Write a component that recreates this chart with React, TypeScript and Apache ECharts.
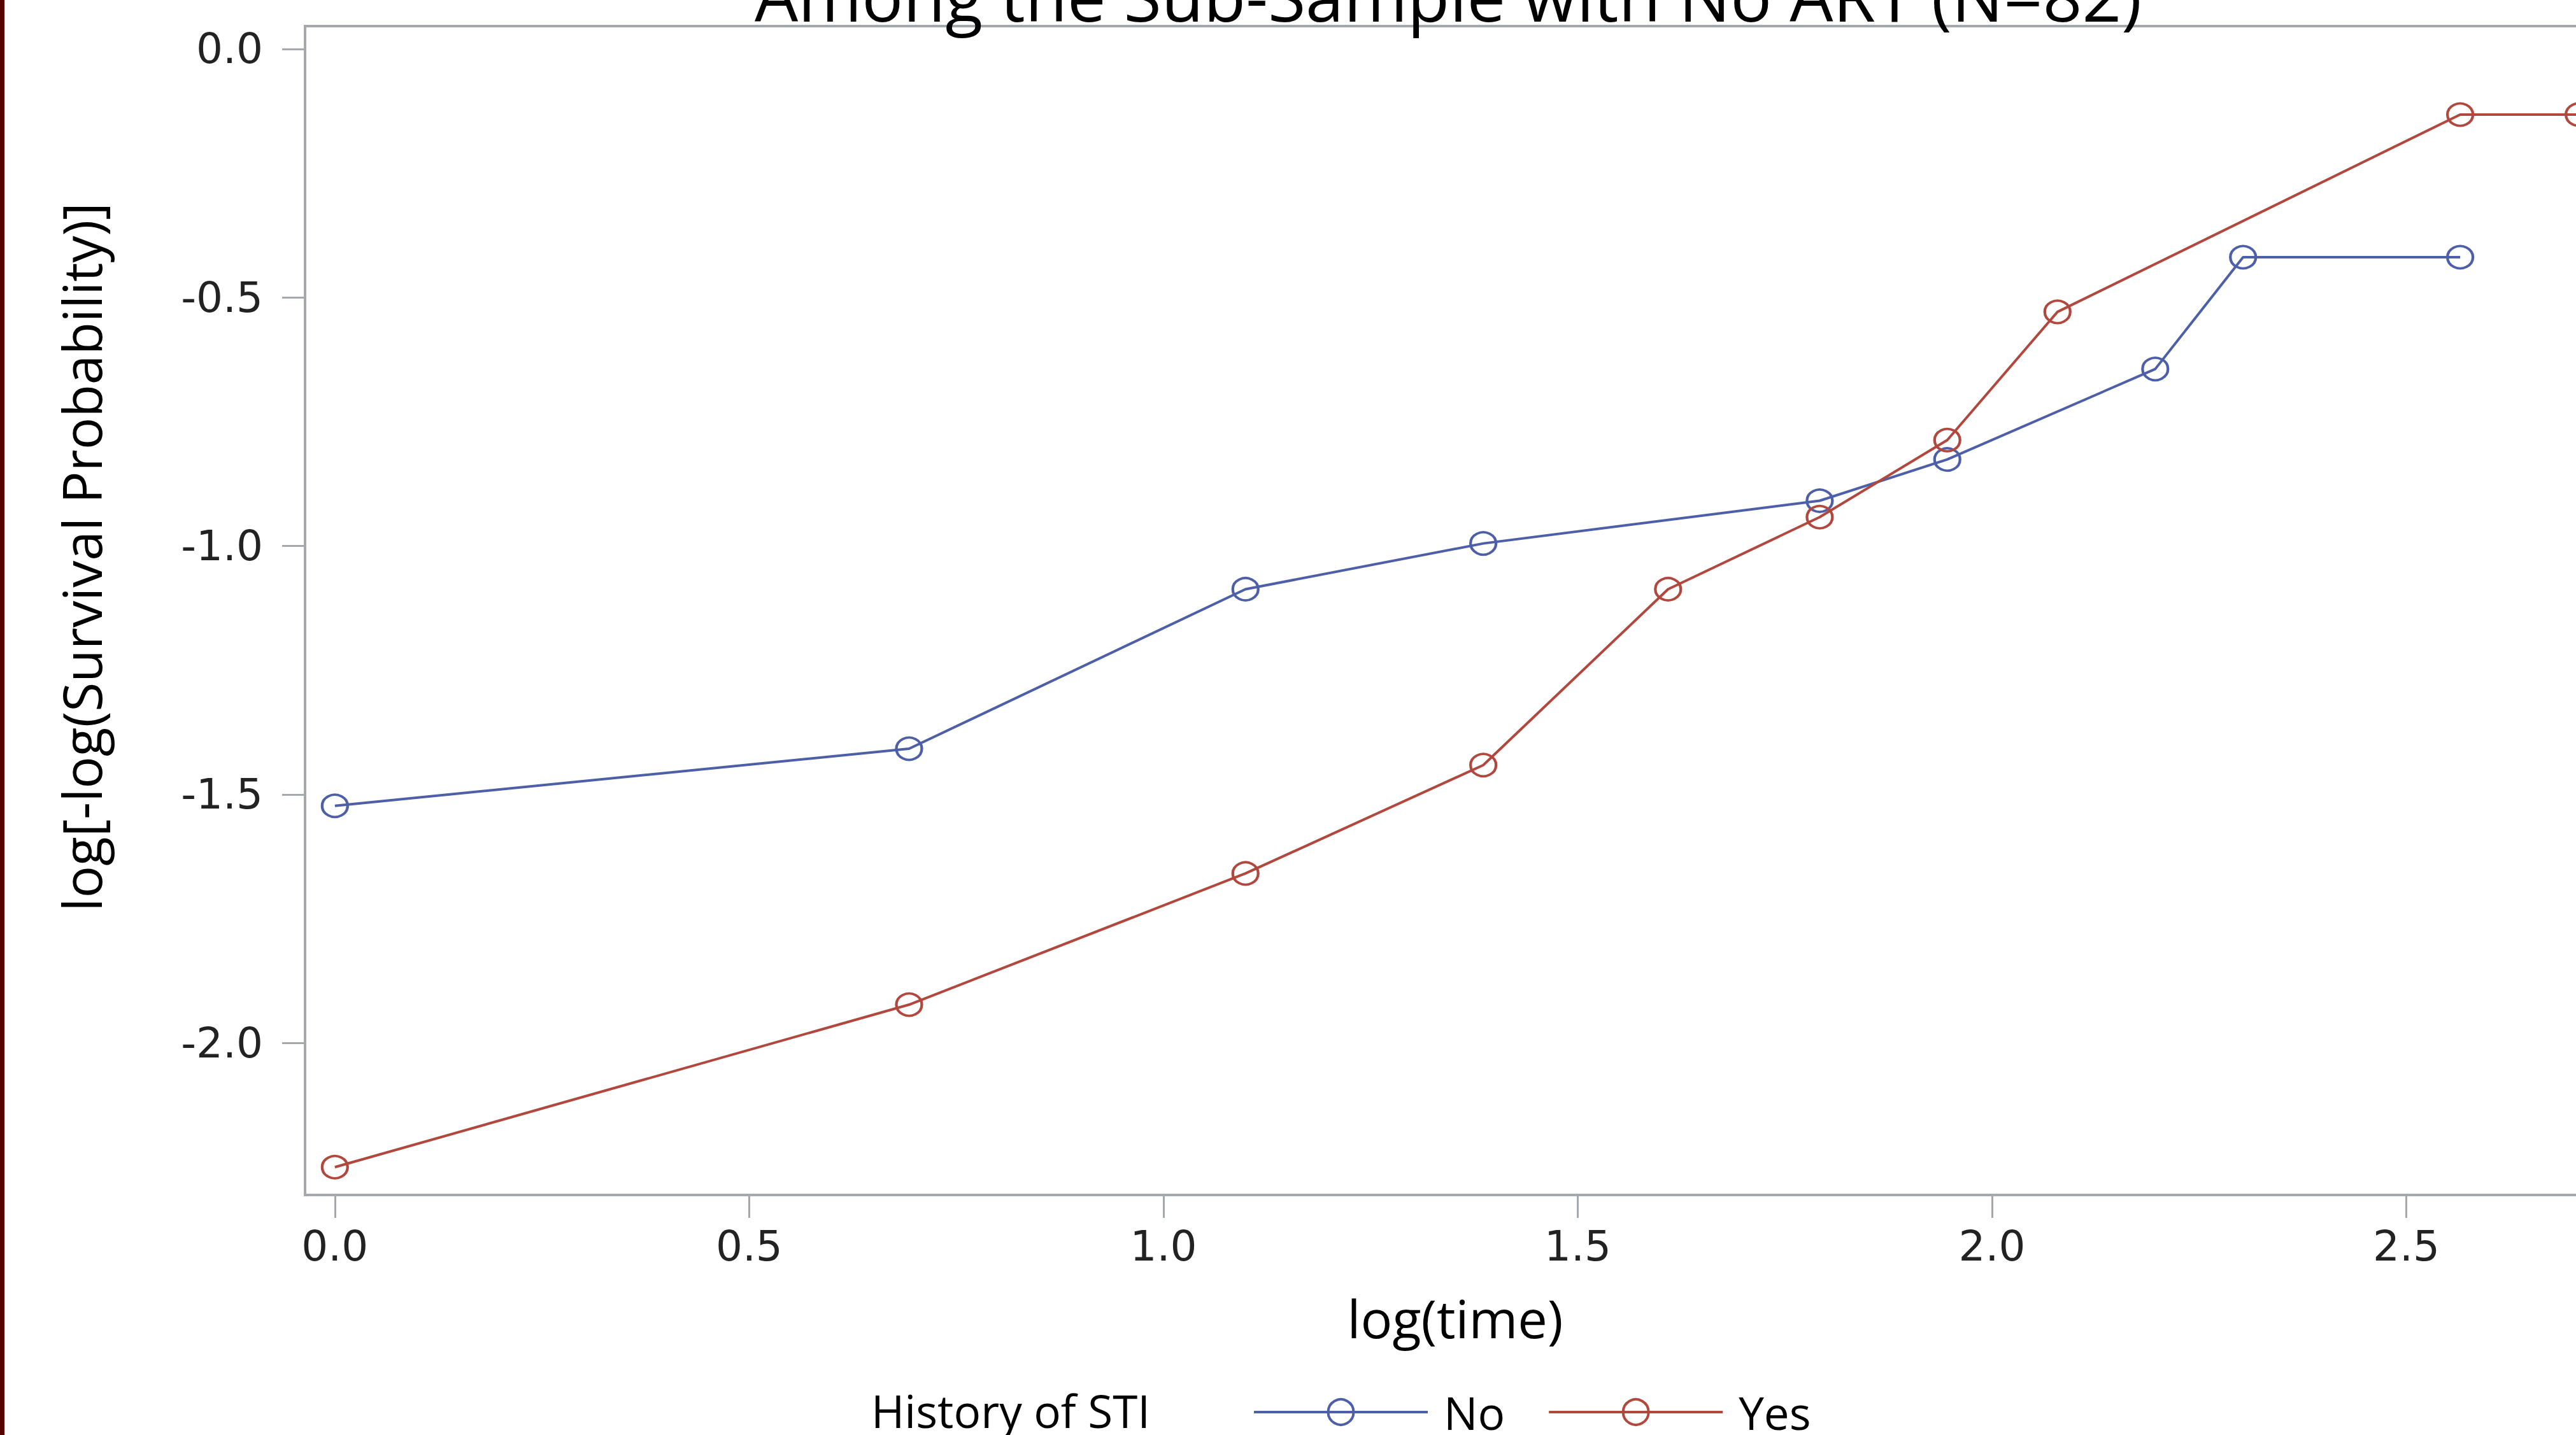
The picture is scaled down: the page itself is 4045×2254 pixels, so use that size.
import React, { useEffect, useRef } from "react";
import * as echarts from "echarts";

// ---- data ----
const TITLE = "Among the Sub-Sample with No ART (N=82)";
const X_NAME = "log(time)";
const Y_NAME = "log[-log(Survival Probability)]";
const LEGEND_TITLE = "History of STI";
const SERIES_NAMES = ["No", "Yes"];

const xNo = [0, 0.693, 1.099, 1.386, 1.792, 1.946, 2.197, 2.303, 2.565];
const yNo = [-1.523, -1.408, -1.087, -0.995, -0.909, -0.826, -0.644, -0.419, -0.419];

const xYes = [0, 0.693, 1.099, 1.386, 1.609, 1.792, 1.946, 2.079, 2.565, 2.708];
const yYes = [-2.25, -1.923, -1.659, -1.441, -1.087, -0.942, -0.787, -0.529, -0.132, -0.132];

const xTicks = [0, 0.5, 1, 1.5, 2, 2.5];
const yTicks = [-2, -1.5, -1, -0.5, 0];

// ---- styles ----
const BLUE = "#4d5fa8";
const RED = "#b2473d";
const FRAME = "#a4a9ad";
const W = 4045;
const H = 2254;

export default function App() {
  const ref = useRef<HTMLDivElement>(null);
  useEffect(() => {
    if (!ref.current) return;
    const chart = echarts.init(ref.current, null, { renderer: "svg" });
    const mkSeries = (name: string, xs: number[], ys: number[], color: string) => ({
      type: "line",
      name,
      data: xs.map((x, i) => [x, ys[i]]),
      symbol: "circle",
      symbolSize: [40, 35],
      color,
      lineStyle: { color, width: 4 },
      itemStyle: { color: "rgba(255,255,255,0)", borderColor: color, borderWidth: 4 },
      emphasis: { disabled: true },
    });
    chart.setOption({
      animation: false,
      backgroundColor: "#ffffff",
      grid: {
        left: 479,
        top: 41,
        right: -51,
        bottom: H - 1877,
        show: true,
        borderColor: FRAME,
        borderWidth: 4,
        backgroundColor: "rgba(0,0,0,0)",
        containLabel: false,
        outerBoundsMode: "none",
      },
      xAxis: {
        type: "value",
        min: -0.036,
        max: 2.744,
        axisLine: { show: false, onZero: false },
        splitLine: { show: false },
        axisTick: {
          show: true,
          customValues: xTicks,
          length: 36,
          inside: false,
          lineStyle: { color: FRAME, width: 3 },
        },
        axisLabel: {
          customValues: xTicks,
          formatter: (v: number) => v.toFixed(1),
          margin: 47,
          fontFamily: "DejaVu Sans",
          fontSize: 66,
          color: "#222",
        },
      },
      yAxis: {
        type: "value",
        min: -2.306,
        max: 0.046,
        axisLine: { show: false, onZero: false },
        splitLine: { show: false },
        axisTick: {
          show: true,
          customValues: yTicks,
          length: 36,
          inside: false,
          lineStyle: { color: FRAME, width: 3 },
        },
        axisLabel: {
          customValues: yTicks,
          formatter: (v: number) => v.toFixed(1),
          margin: 66,
          fontFamily: "DejaVu Sans",
          fontSize: 66,
          color: "#222",
        },
      },
      legend: {
        data: SERIES_NAMES,
        left: 1967,
        top: 2178,
        orient: "horizontal",
        itemWidth: 273,
        itemHeight: 50,
        itemGap: 67,
        padding: 0,
        selectedMode: false,
        itemStyle: { borderWidth: 4 },
        lineStyle: { width: 4 },
        textStyle: {
          fontFamily: "Open Sans",
          fontSize: 71,
          color: "#000",
          lineHeight: 80,
          padding: [0, 0, 0, 20],
        },
      },
      graphic: [
        {
          type: "rect",
          shape: { x: 0, y: 0, width: 7, height: H },
          style: { fill: "#560000" },
          z: 10,
        },
        {
          type: "text",
          x: 2274,
          y: -8,
          style: {
            text: TITLE,
            fontFamily: "Open Sans",
            fontSize: 108,
            fill: "#000",
            align: "center",
            verticalAlign: "middle",
          },
        },
        {
          type: "text",
          x: 2285,
          y: 2069,
          style: {
            text: X_NAME,
            fontFamily: "Open Sans",
            fontSize: 83,
            fill: "#000",
            align: "center",
            verticalAlign: "middle",
          },
        },
        {
          type: "text",
          x: 127,
          y: 875,
          rotation: Math.PI / 2,
          style: {
            text: Y_NAME,
            fontFamily: "Open Sans",
            fontSize: 84,
            fill: "#000",
            align: "center",
            verticalAlign: "middle",
          },
        },
        {
          type: "text",
          x: 1368,
          y: 2215,
          style: {
            text: LEGEND_TITLE,
            fontFamily: "Open Sans",
            fontSize: 71,
            fill: "#000",
            align: "left",
            verticalAlign: "middle",
          },
        },
      ],
      series: [
        mkSeries(SERIES_NAMES[0], xNo, yNo, BLUE),
        mkSeries(SERIES_NAMES[1], xYes, yYes, RED),
      ],
    });
    return () => chart.dispose();
  }, []);
  return (
    <div
      ref={ref}
      style={{ position: "fixed", left: 0, top: 0, width: W + "px", height: H + "px", background: "#fff" }}
    />
  );
}
